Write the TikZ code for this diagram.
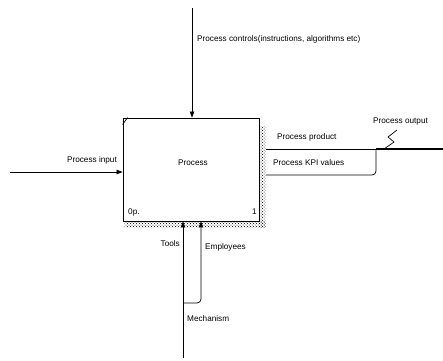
\documentclass[tikz,border=0pt]{standalone}
\usepackage{fontspec}
\setmainfont{Liberation Sans}
\usepackage{tikz}
\usetikzlibrary{positioning, arrows.meta, patterns}
\definecolor{lineColor}{RGB}{0, 0, 0}
\definecolor{hatchColor}{RGB}{0, 0, 0}
\tikzset{
    proc_box/.style={
        draw=lineColor,
        line width=0.9pt,
        minimum width=136pt,
        minimum height=103pt,
        inner sep=0pt
    },
    idef_edge/.style={
        draw=lineColor,
        line width=0.7pt
    },
    idef_arrow/.style={
        idef_edge,
        -{Triangle[length=6pt,width=4.5pt]}
    },
    idef_label/.style={
        inner sep=0pt,
        font=\fontsize{8.2}{9.8}\selectfont
    },
    idef_hatch/.style={
        pattern=crosshatch dots,
        pattern color=hatchColor
    }
}

\begin{document}
\begin{tikzpicture}[x=1pt, y=-1pt]
    \useasboundingbox (0,0) rectangle (443,360);

    % activity box
    \node[proc_box] (proc) at (191,169.5) {};
    \node[idef_label] (procTxt) at (193,163) {Process};
    \node[idef_label, anchor=west] (procNo) at (128,212) {0p.};
    \node[idef_label, anchor=east] (procId) at (257,212) {1};
    \draw[idef_edge] ([yshift=-7pt]proc.north west) -- ([xshift=5pt]proc.north west);
    \path[idef_hatch] ([yshift=-9pt]proc.north east) rectangle ([shift={(6pt,-6pt)}]proc.south east);
    \path[idef_hatch] ([xshift=2pt]proc.south west) rectangle ([shift={(6pt,-6pt)}]proc.south east);

    % control
    \coordinate (ctlT) at (192,8);
    \draw[idef_arrow] (ctlT) -- (ctlT |- proc.north);
    \node[idef_label, anchor=west] (ctlTxt) at (197,39) {Process controls(instructions, algorithms etc)};

    % input
    \coordinate (inL) at (10,172);
    \draw[idef_arrow] (inL) -- (inL -| proc.west);
    \node[idef_label, anchor=east] (inTxt) at (117,160) {Process input};

    % outputs
    \coordinate (prodS) at (266,149);
    \coordinate (kpiS) at (266,175);
    \coordinate (outJ) at (376,149);
    \coordinate (outE) at (443,149);
    \draw[idef_edge] (prodS) -- (outJ);
    \draw[idef_edge, rounded corners=4pt] (kpiS) -| (outJ);
    \draw[idef_edge, line width=1.3pt] (outJ) -- (outE);
    \node[idef_label, anchor=west] (prodTxt) at (277,137) {Process product};
    \node[idef_label, anchor=west] (kpiTxt) at (273,163) {Process KPI values};
    \node[idef_label, anchor=west] (outTxt) at (373,122) {Process output};
    \coordinate (sqA) at (384,149);
    \draw[idef_edge] (sqA) -- (394,142) -- (388,137) -- (397,130);

    % mechanisms
    \coordinate (mechB) at (183,358);
    \coordinate (mechJ) at (183,303);
    \coordinate (emplT) at (201,221);
    \draw[idef_arrow] (mechB) -- (mechB |- proc.south);
    \draw[idef_arrow, rounded corners=4pt] (mechJ) -| (emplT |- proc.south);
    \node[idef_label, anchor=east] (toolTxt) at (180,244) {Tools};
    \node[idef_label, anchor=west] (emplTxt) at (205,247) {Employees};
    \node[idef_label, anchor=west] (mechTxt) at (187,319) {Mechanism};
\end{tikzpicture}
\end{document}
